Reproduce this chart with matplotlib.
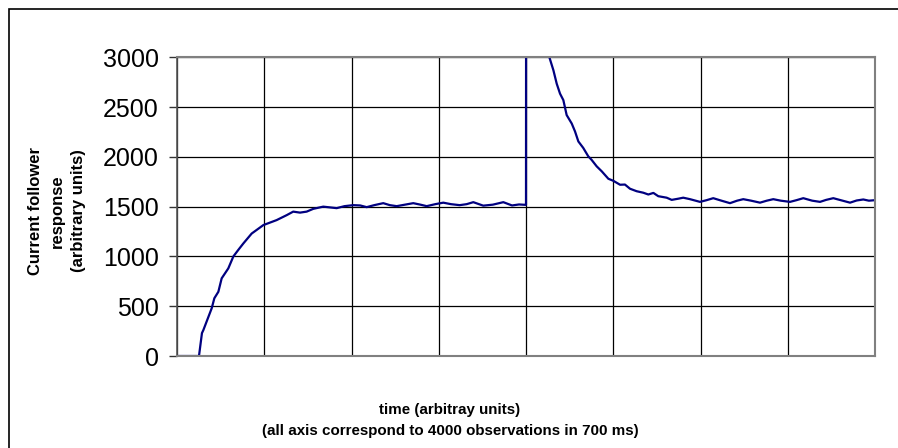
import matplotlib
matplotlib.use("Agg")
import matplotlib.pyplot as plt
from matplotlib.patches import Rectangle

obs = [0, 126, 143, 151, 199, 214, 237, 256, 294, 323, 351, 380, 428, 495,
       571, 629, 666, 705, 743, 781, 838, 915, 960, 1010, 1050, 1087, 1130,
       1182, 1220, 1259, 1300, 1354, 1395, 1431, 1480, 1526, 1570, 1620, 1660,
       1698, 1755, 1810, 1870, 1920, 1960, 1998, 2000,
       2002, 2060, 2100, 2134, 2157, 2176, 2195, 2214, 2233, 2262, 2281, 2300,
       2328, 2357, 2376, 2405, 2434, 2472, 2500, 2539, 2567, 2596, 2634, 2672,
       2701, 2730, 2758, 2806, 2835, 2873, 2901, 2940, 2997, 3035, 3073, 3120,
       3169, 3210, 3245, 3290, 3341, 3380, 3417, 3460, 3513, 3550, 3589, 3640,
       3685, 3720, 3761, 3810, 3857, 3895, 3933, 3965, 4000]
response = [0, 0, 230, 260, 480, 580, 645, 780, 880, 1000, 1065, 1130, 1230, 1315,
            1365, 1415, 1450, 1440, 1450, 1478, 1500, 1485, 1505, 1515, 1512, 1495, 1515,
            1535, 1515, 1505, 1518, 1535, 1520, 1505, 1525, 1540, 1525, 1515, 1525,
            1545, 1510, 1520, 1545, 1512, 1522, 1518, 1518,
            9000, 5000, 3600, 3000, 2870, 2735, 2635, 2570, 2420, 2335, 2255, 2155,
            2090, 2005, 1970, 1905, 1855, 1780, 1760, 1720, 1722, 1680, 1655, 1640,
            1622, 1638, 1605, 1590, 1568, 1580, 1590, 1575, 1548, 1565, 1585, 1560,
            1535, 1560, 1575, 1560, 1540, 1560, 1575, 1560, 1548, 1565, 1585, 1560,
            1548, 1568, 1585, 1562, 1540, 1562, 1572, 1560, 1565]

y_ticks = [0, 500, 1000, 1500, 2000, 2500, 3000]
x_grid = [0, 500, 1000, 1500, 2000, 2500, 3000, 3500, 4000]

plt.rcParams['font.family'] = ['Liberation Sans', 'DejaVu Sans']

fig = plt.figure(figsize=(8.98, 4.48), dpi=100)
ax = fig.add_axes([177 / 898, 92 / 448, 698 / 898, 298.7 / 448])

ax.plot(obs, response, color='#000080', lw=1.6, solid_joinstyle='round')

ax.set_xlim(0, 4000)
ax.set_ylim(0, 3000)
ax.set_xticks(x_grid)
ax.set_yticks(y_ticks)
ax.set_yticklabels([str(v) for v in y_ticks], fontsize=18)
ax.tick_params(axis='x', length=0, labelbottom=False)
ax.tick_params(axis='y', length=6, width=1, pad=7, direction='out', color='#333333')
ax.grid(True, color='black', lw=0.9)
ax.set_axisbelow(True)
for s in ['top', 'right', 'bottom']:
    ax.spines[s].set_color('#808080')
    ax.spines[s].set_linewidth(1.5)
ax.spines['left'].set_color('#555555')
ax.spines['left'].set_linewidth(1.2)

fig.text(57 / 898, 1 - 211 / 448, 'Current follower\nresponse\n(arbitrary units)',
         rotation=90, ha='center', va='center', fontsize=12, fontweight='bold',
         linespacing=1.5)
fig.text(450 / 898, 1 - 420.5 / 448, 'time (arbitray units)\n(all axis correspond to 4000 observations in 700 ms)',
         ha='center', va='center', fontsize=10.9, fontweight='bold', linespacing=1.6)

# outer chart border (right/bottom cropped off in the original)
fig.patches.append(Rectangle((9 / 898, -0.2), 1.5, 0.2 + 1 - 9 / 448,
                             transform=fig.transFigure, fill=False,
                             edgecolor='black', lw=1.2))

fig.savefig('out.png', dpi=100)
